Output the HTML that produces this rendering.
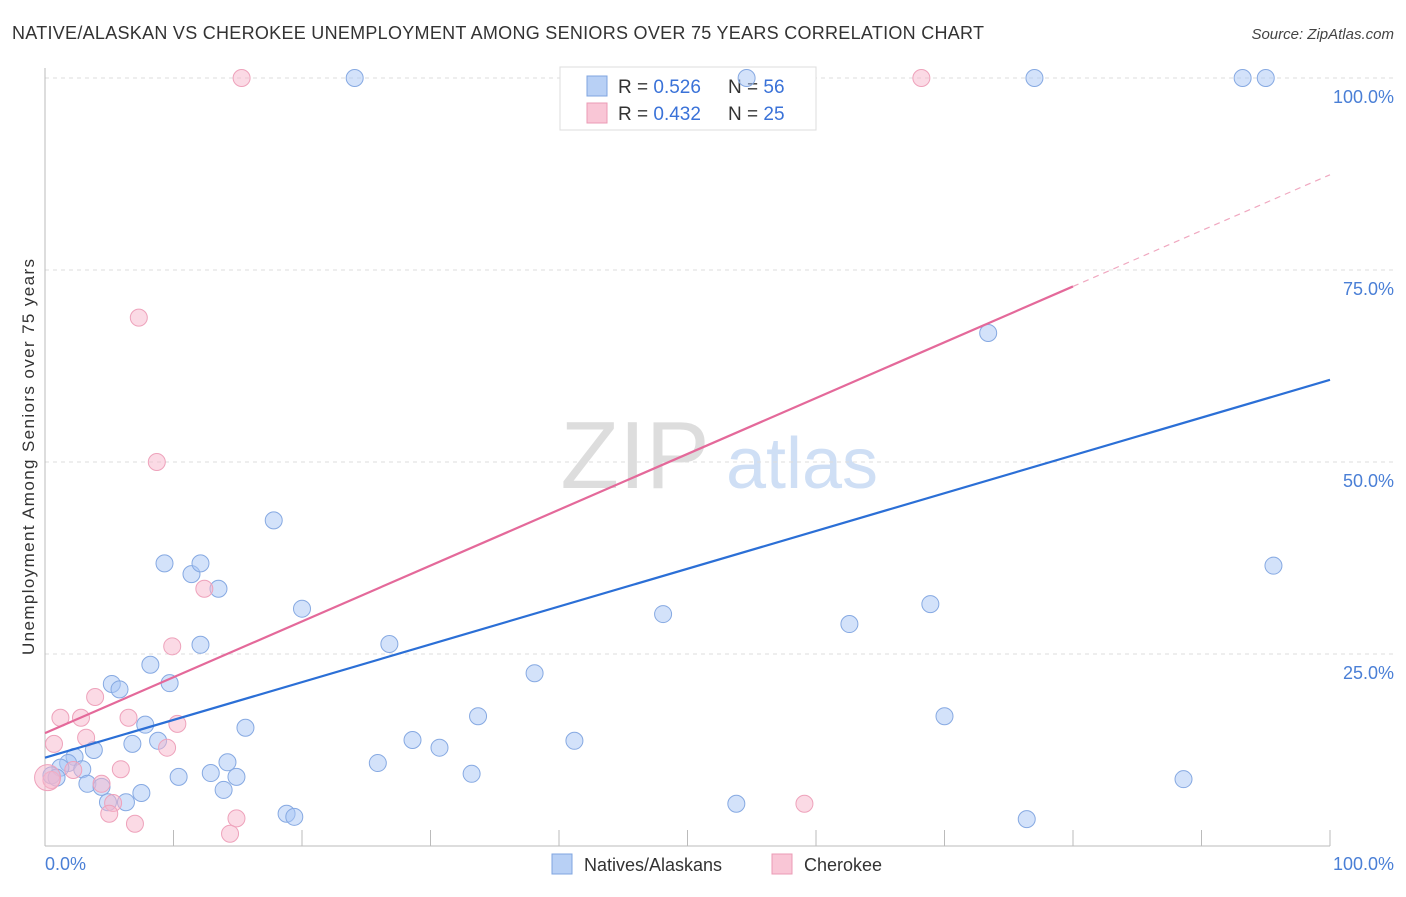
<!DOCTYPE html>
<html><head><meta charset="utf-8">
<style>
body{margin:0;background:#fff;font-family:"Liberation Sans",sans-serif;}
svg text{font-family:"Liberation Sans",sans-serif;}
</style></head>
<body>
<svg id="chart" width="1406" height="892" xmlns="http://www.w3.org/2000/svg">
<text x="12" y="39" font-size="18" fill="#333" textLength="972">NATIVE/ALASKAN VS CHEROKEE UNEMPLOYMENT AMONG SENIORS OVER 75 YEARS CORRELATION CHART</text>
<text x="1394" y="39" font-size="15" fill="#444" text-anchor="end" font-style="italic">Source: ZipAtlas.com</text>
<g>
<text x="635" y="488" font-size="96" fill="#ddd" text-anchor="middle" font-family="Liberation Serif,serif">ZIP</text>
<text x="802" y="488" font-size="72" fill="#cfdff5" text-anchor="middle">atlas</text>
</g>
<g id="grid"></g>
<g id="axes"></g>
<g>
<rect x="560" y="67" width="256" height="63" fill="#fff" stroke="#ddd"/>
<rect x="587" y="76" width="20" height="20" fill="#b8d0f5" stroke="#7fa5e0"/>
<text x="618" y="93" font-size="19" fill="#333">R = <tspan fill="#3a72d8">0.526</tspan></text>
<text x="728" y="93" font-size="19" fill="#333">N = <tspan fill="#3a72d8">56</tspan></text>
<rect x="587" y="103" width="20" height="20" fill="#f9c6d6" stroke="#eb9bb5"/>
<text x="618" y="120" font-size="19" fill="#333">R = <tspan fill="#3a72d8">0.432</tspan></text>
<text x="728" y="120" font-size="19" fill="#333">N = <tspan fill="#3a72d8">25</tspan></text>
</g>
<g id="marks"></g>
<g id="lines"></g>
<text transform="translate(34,457) rotate(-90)" font-size="17" fill="#333" text-anchor="middle" textLength="396">Unemployment Among Seniors over 75 years</text>
<text x="45" y="870" font-size="18" fill="#4a7fd6">0.0%</text>
<text x="1394" y="870" font-size="18" fill="#4a7fd6" text-anchor="end">100.0%</text>
<g>
<rect x="552" y="854" width="20" height="20" fill="#b8d0f5" stroke="#7fa5e0"/>
<text x="584" y="871" font-size="18" fill="#333">Natives/Alaskans</text>
<rect x="772" y="854" width="20" height="20" fill="#f9c6d6" stroke="#eb9bb5"/>
<text x="804" y="871" font-size="18" fill="#333">Cherokee</text>
</g>
</svg>
<script>
const yTicks=[25,50,75,100];
const yTickLabels=["25.0%","50.0%","75.0%","100.0%"];
const xTicks=[10,20,30,40,50,60,70,80,90,100];
const blueX=[24.1,54.6,77.0,93.2,95.0,73.4,95.6,17.8,9.3,11.4,12.1,13.5,20.0,48.1,68.9,62.6,12.1,26.8,8.2,38.1,5.2,5.8,9.7,33.7,70.0,15.6,7.8,6.8,8.8,28.6,30.7,41.2,3.8,2.3,1.8,1.2,2.9,0.5,14.2,12.9,14.9,10.4,25.9,33.2,3.3,4.4,7.5,13.9,4.9,6.3,53.8,18.8,19.4,76.4,88.6,0.9];
const blueY=[100,100,100,100,100,66.8,36.5,42.4,36.8,35.4,36.8,33.5,30.9,30.2,31.5,28.9,26.2,26.3,23.6,22.5,21.1,20.4,21.2,16.9,16.9,15.4,15.8,13.3,13.7,13.8,12.8,13.7,12.5,11.6,10.8,10.2,10.0,9.2,10.9,9.5,9.0,9.0,10.8,9.4,8.1,7.7,6.9,7.3,5.7,5.7,5.5,4.2,3.8,3.5,8.7,8.9];
const pinkX=[15.3,68.2,7.3,8.7,12.4,9.9,3.9,2.8,1.2,6.5,10.3,3.2,9.5,0.7,5.9,2.2,4.4,5.3,5.0,7.0,14.9,14.4,59.1,0.5,0.2];
const pinkY=[100,100,68.8,50.0,33.5,26.0,19.4,16.7,16.7,16.7,15.9,14.1,12.8,13.3,10.0,9.9,8.1,5.6,4.2,2.9,3.6,1.6,5.5,8.6,8.9];
const blueFit=[11.5,60.7];
const pinkFit=[14.7,87.4];
const pinkSolidEnd=80;
const NS="http://www.w3.org/2000/svg";
const sx=v=>45+v*12.85, sy=v=>846-v*7.68;
function mk(tag,attrs,parent){const e=document.createElementNS(NS,tag);for(const k in attrs)e.setAttribute(k,attrs[k]);document.getElementById(parent).appendChild(e);return e;}
yTicks.forEach((t,i)=>{
 const g=mk('line',{x1:45,x2:1395,y1:sy(t),y2:sy(t),stroke:'#ddd','stroke-dasharray':'4,4'},'grid');
 
 
 const tx=mk('text',{x:1394,y:sy(t)+25,'font-size':18,fill:'#4a7fd6','text-anchor':'end'},'grid');
 tx.textContent=yTickLabels[i];
 
 
});
const ax=mk('line',{x1:45,x2:1330,y1:846,y2:846,stroke:'#bbb'},'axes');


const ay=mk('line',{x1:45,x2:45,y1:68,y2:846,stroke:'#bbb'},'axes');


xTicks.forEach(t=>{
 const l=mk('line',{x1:sx(t),x2:sx(t),y1:830,y2:846,stroke:'#bbb'},'axes');
 
 
});
function dots(xs,ys,fill,stroke,name){
 xs.forEach((x,i)=>{
  const r=(name==='cherokee-point'&&i===xs.length-1)?13:8.5;
  const c=mk('circle',{cx:sx(x),cy:sy(ys[i]),r:r,fill:fill,stroke:stroke,'stroke-width':1},'marks');
  
  
 });
}
dots(blueX,blueY,'rgba(168,198,245,0.5)','#86a9e2','native-point');
dots(pinkX,pinkY,'rgba(248,182,204,0.5)','#eea2bb','cherokee-point');
const bl=mk('line',{x1:sx(0),y1:sy(blueFit[0]),x2:sx(100),y2:sy(blueFit[1]),stroke:'#2b6fd6','stroke-width':2.2},'lines');


const pm=pinkFit[0]+(pinkFit[1]-pinkFit[0])*pinkSolidEnd/100;
const pl=mk('line',{x1:sx(0),y1:sy(pinkFit[0]),x2:sx(pinkSolidEnd),y2:sy(pm),stroke:'#e4699a','stroke-width':2.2},'lines');


const pd=mk('line',{x1:sx(pinkSolidEnd),y1:sy(pm),x2:sx(100),y2:sy(pinkFit[1]),stroke:'#f0a8c0','stroke-width':1.2,'stroke-dasharray':'6,5'},'lines');


</script>
</body></html>
